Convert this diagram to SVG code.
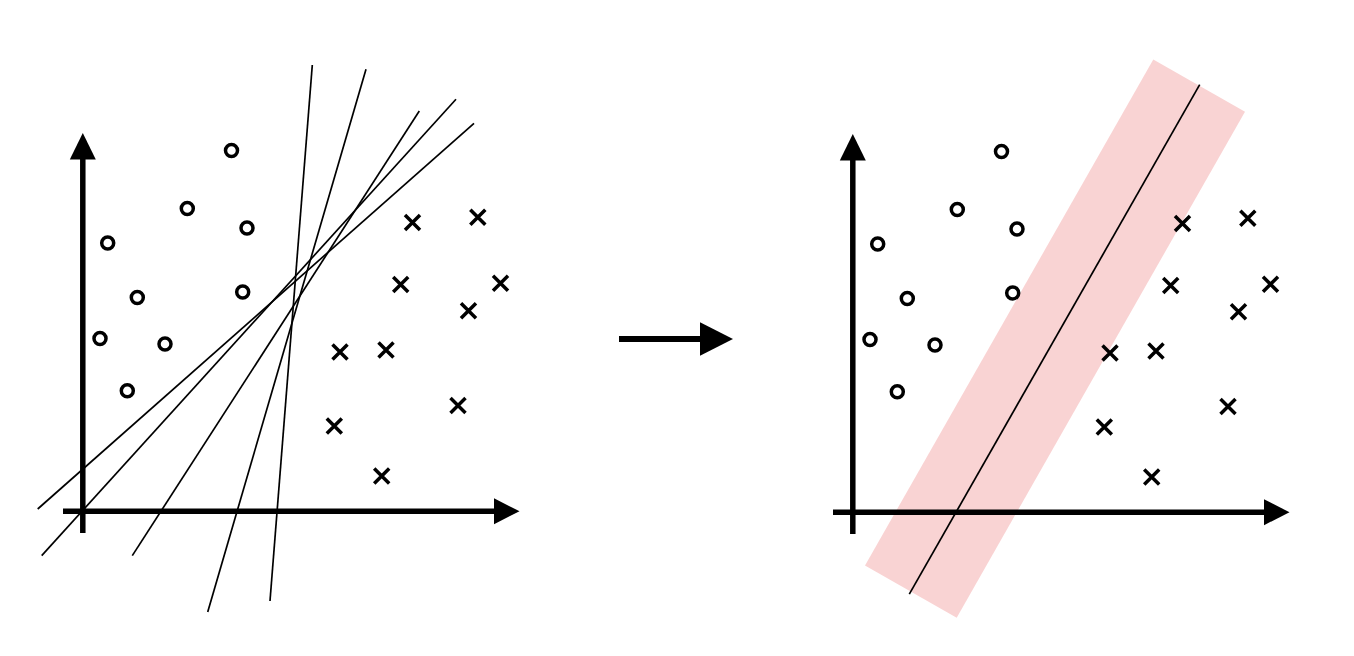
<svg xmlns="http://www.w3.org/2000/svg" xmlns:xlink="http://www.w3.org/1999/xlink" width="1354" height="656" viewBox="0 0 1354 656">
  <style>
    .axis { stroke: #000; stroke-width: 5.5; fill: none; }
    .head { fill: #000; stroke: none; }
    .sep { stroke: #000; stroke-width: 1.7; fill: none; }
    .o { fill: none; stroke: #000; stroke-width: 3.5; }
    .x { fill: none; stroke: #000; stroke-width: 3.5; }
  </style>
  <defs>
    <circle id="pt-o" class="o" r="6"/>
    <path id="pt-x" class="x" d="M-7.5,-7.5 L7.5,7.5 M7.5,-7.5 L-7.5,7.5"/>
    <g id="plot">
      <g id="axes">
        <line class="axis" x1="82.8" y1="533" x2="82.8" y2="156"/>
        <polygon class="head" points="82.8,133 95.8,159.5 69.8,159.5"/>
        <line class="axis" x1="63" y1="511.2" x2="497" y2="511.2"/>
        <polygon class="head" points="519.5,511.2 494,498.3 494,524.2"/>
      </g>
      <g id="circles">
        <use xlink:href="#pt-o" x="231.5" y="150.5"/>
        <use xlink:href="#pt-o" x="187.3" y="208.5"/>
        <use xlink:href="#pt-o" x="247" y="228"/>
        <use xlink:href="#pt-o" x="107.7" y="243"/>
        <use xlink:href="#pt-o" x="137.3" y="297.4"/>
        <use xlink:href="#pt-o" x="242.7" y="291.9"/>
        <use xlink:href="#pt-o" x="100" y="338.5"/>
        <use xlink:href="#pt-o" x="165" y="344"/>
        <use xlink:href="#pt-o" x="127.3" y="390.7"/>
      </g>
      <g id="crosses">
        <use xlink:href="#pt-x" x="412.5" y="222.5"/>
        <use xlink:href="#pt-x" x="477.8" y="217.3"/>
        <use xlink:href="#pt-x" x="400.7" y="284.4"/>
        <use xlink:href="#pt-x" x="500.5" y="283.3"/>
        <use xlink:href="#pt-x" x="468.5" y="310.8"/>
        <use xlink:href="#pt-x" x="340" y="351.9"/>
        <use xlink:href="#pt-x" x="386" y="350"/>
        <use xlink:href="#pt-x" x="458" y="405.6"/>
        <use xlink:href="#pt-x" x="334.3" y="426"/>
        <use xlink:href="#pt-x" x="381.7" y="476"/>
      </g>
    </g>
  </defs>

  <g id="left-plot">
    <use xlink:href="#plot"/>
    <g id="candidate-lines">
      <line class="sep" x1="312.3" y1="65" x2="270" y2="601"/>
      <line class="sep" x1="366" y1="69.3" x2="207.7" y2="612"/>
      <line class="sep" x1="419.3" y1="111" x2="132.3" y2="555.6"/>
      <line class="sep" x1="456" y1="99.3" x2="41.7" y2="555.6"/>
      <line class="sep" x1="474" y1="123.3" x2="37.7" y2="509"/>
    </g>
  </g>

  <g id="right-plot">
    <polygon id="margin" points="1153.3,59.5 1245,111.7 956.7,617.7 865,565.5" fill="#f9d3d3"/>
    <use xlink:href="#plot" transform="translate(770,1)"/>
    <line id="separator" class="sep" x1="1199.7" y1="84.7" x2="909.3" y2="594.2"/>
  </g>

  <g id="connectors">
    <line x1="619" y1="339" x2="702" y2="339" stroke="#000" stroke-width="6"/>
    <polygon class="head" points="733,339 700,322.3 700,355.7"/>
  </g>
</svg>
